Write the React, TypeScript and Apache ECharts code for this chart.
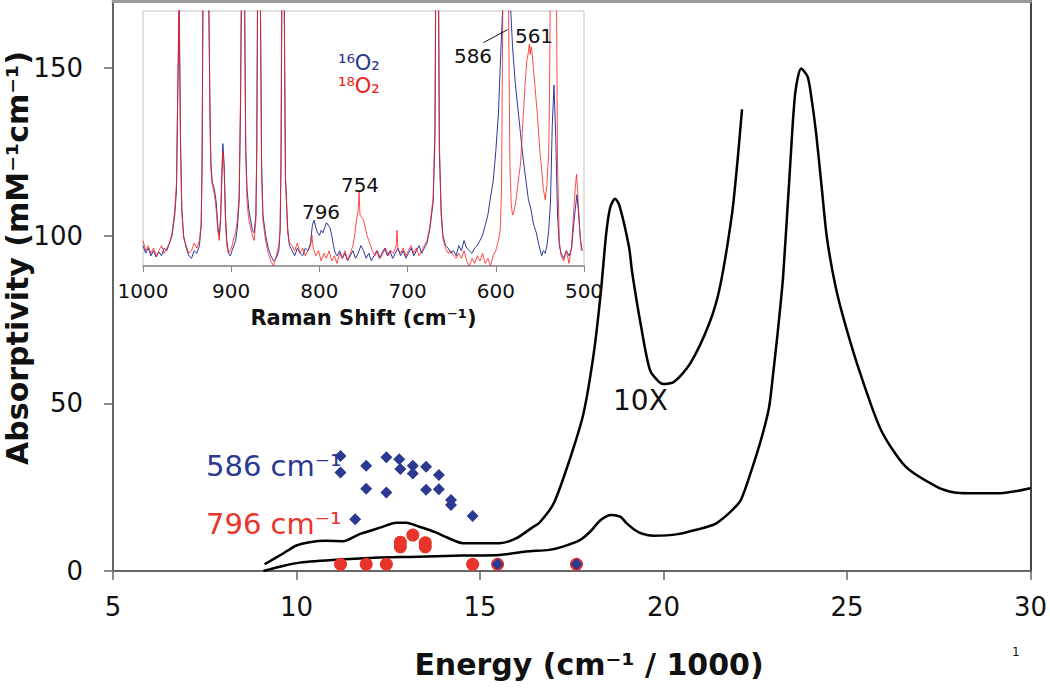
import React, { useEffect, useRef } from "react";
import * as echarts from "echarts";

const FONT = '"DejaVu Sans", Verdana, sans-serif';

const energyTicks = [5, 10, 15, 20, 25, 30];
const absorptivityTicks = [0, 50, 100, 150];
const ramanTicks = [500, 600, 700, 800, 900, 1000];

// Electronic absorption spectrum (Energy cm-1/1000, mM-1cm-1)
const absorbance: [number, number][] = [
  [9.1, 0], [9.63, 1.5], [10.09, 2.5], [11.18, 3.4], [12.26, 4.0], [13.08, 4.2],
  [14.52, 4.6], [15.53, 4.8], [16.25, 5.8], [16.89, 6.3], [17.24, 7.2], [17.72, 9.2],
  [18.0, 11.7], [18.29, 15.2], [18.58, 16.7], [18.82, 16.2], [19.0, 14.2], [19.2, 12.4],
  [19.4, 11.2], [19.73, 10.5], [20.39, 11.0], [21.2, 13.2], [21.44, 14.2], [21.83, 17.7],
  [22.11, 21.2], [22.4, 30.1], [22.68, 40], [22.88, 49], [22.99, 59], [23.11, 70.9],
  [23.26, 87.8], [23.45, 120.6], [23.59, 142.5], [23.75, 149.9], [23.93, 147.4],
  [24.04, 140.5], [24.16, 130.5], [24.31, 114.6], [24.45, 99.7], [24.69, 84.8],
  [24.97, 72.9], [25.36, 59], [25.93, 42], [26.6, 31.1], [27.45, 25.1], [27.93, 23.4],
  [28.31, 23.2], [29.17, 23.2], [30.0, 24.7],
];

// Same spectrum scaled 10X
const absorbance10x: [number, number][] = [
  [9.13, 2.0], [9.6, 5.0], [10.0, 7.6], [10.36, 8.6], [10.8, 9.0], [11.27, 8.9],
  [11.72, 11.0], [12.3, 13.0], [12.72, 14.4], [12.99, 14.4], [13.35, 13.2], [13.8, 11.5],
  [14.1, 10.0], [14.53, 8.3], [15.0, 8.3], [15.53, 8.3], [15.98, 9.7], [16.43, 13.0],
  [16.62, 14.4], [17.01, 20.2], [17.44, 33.1], [17.82, 47], [18.1, 64.9], [18.29, 82.8],
  [18.44, 100.7], [18.55, 108.5], [18.68, 111], [18.8, 109], [19.06, 96.7], [19.15, 88.8],
  [19.39, 72.9], [19.63, 60], [19.87, 56.5], [20.01, 55.8], [20.3, 56.5], [20.73, 61.9],
  [21.25, 73.9], [21.54, 84.8], [21.87, 106.7], [22.02, 122.6], [22.14, 137.7],
];

// Resonance Raman enhancement profiles
const profile586: [number, number][] = [
  [11.2, 34.3], [11.2, 29.4], [11.9, 31.4], [11.9, 24.5], [12.45, 33.9], [12.45, 23.4],
  [12.8, 33.3], [12.83, 30.4], [13.17, 31.4], [13.17, 29.1], [13.53, 31.1], [13.53, 24.2],
  [13.88, 28.6], [13.88, 24.4], [14.21, 21.2], [14.21, 19.7], [14.8, 16.4], [11.6, 15.4],
  [15.48, 2.0], [17.63, 2.0],
];
const profile796: [number, number][] = [
  [11.2, 2.0], [11.9, 2.0], [12.45, 2.0], [14.8, 2.0], [15.48, 2.0], [17.63, 2.0],
  [12.83, 8.6], [12.83, 7.2], [13.17, 10.7], [13.51, 8.4], [13.51, 7.2],
];

// Inset Raman spectra (shift cm-1, relative intensity)
const raman16O2: [number, number][] = [
  [1000, 8], [997, 5], [994, 7], [991, 4], [988, 6], [985, 3.5], [982, 5.5], [979, 4],
  [976, 7], [973, 6], [970, 9], [967, 12], [964, 20], [962, 30], [960.5, 70], [959, 104],
  [957.5, 50], [956, 22], [954, 12], [951, 7], [948, 4], [945, 3], [942, 6], [939, 5],
  [936, 8], [934, 16], [933, 40], [932, 105], [929, 250], [925.5, 105], [924, 60], [923, 40],
  [921.5, 33], [919, 30], [917, 25], [915, 15], [913.5, 12], [912, 18], [910.5, 35],
  [909.5, 48], [908, 40], [906.5, 20], [905, 10], [903, 5], [901, 4], [899, 6], [897, 8],
  [895, 10], [893, 15], [891, 25], [889.5, 60], [888, 120], [886.5, 160], [885, 115],
  [883.5, 45], [882, 30], [880, 22], [878, 18], [876, 14], [874, 13], [872, 20], [871, 45],
  [870, 110], [868.5, 170], [867, 110], [865.5, 40], [864, 20], [861, 12], [858, 7],
  [855, 4], [852, 2], [849, 3], [846, 6], [844.5, 14], [843.5, 40], [842.5, 110],
  [841, 170], [840, 110], [838.5, 35], [836, 15], [834, 8], [831, 6], [828, 4], [825, 7],
  [822, 5], [819, 4], [816, 7], [813, 6], [810, 9], [808, 16], [806, 18], [804, 15],
  [802, 13], [800, 12], [798, 14], [796, 13], [794, 15], [792, 17], [790, 16], [788, 15],
  [786, 12], [784, 8], [782, 5], [780, 4], [777, 6], [774, 3], [771, 5], [768, 2], [765, 4],
  [762, 6], [759, 3], [756, 5], [753, 8], [750, 6], [747, 3], [744, 5], [741, 2], [738, 4],
  [735, 6], [732, 3], [729, 5], [726, 7], [723, 4], [720, 6], [717, 3], [714, 5], [711, 7],
  [708, 4], [705, 6], [702, 3], [699, 5], [696, 7], [693, 4], [690, 6], [687, 8], [684, 5],
  [681, 7], [678, 9], [675, 14], [671, 25], [669, 50], [668, 110], [666.5, 180], [665, 110],
  [664, 45], [662, 22], [660, 12], [657, 8], [654, 7], [651, 5], [648, 6], [645, 4],
  [642, 8], [639, 6], [636, 10], [633, 7], [630, 6], [627, 5], [624, 7], [621, 8], [618, 10],
  [615, 12], [612, 16], [609, 20], [606, 27], [603, 33], [600, 45], [597, 60], [595, 78],
  [593, 95], [591, 110], [589, 130], [587, 140], [585, 120], [583, 100], [581, 86],
  [578, 72], [575, 62], [572, 52], [569, 42], [566, 34], [563, 26], [560, 22], [557, 16],
  [554, 13], [551, 8], [548, 4], [546, 6], [544, 5], [542, 8], [540, 14], [538, 25],
  [536, 55], [534, 71], [532, 50], [530, 20], [528, 8], [526, 5], [523, 3], [520, 6],
  [517, 4], [514, 7], [512, 15], [510, 22], [508, 28], [506, 20], [504, 10], [502, 6],
];

const raman18O2: [number, number][] = [
  [1000, 10], [997, 6], [994, 8], [991, 5], [988, 7], [985, 4], [982, 6], [979, 8],
  [976, 5], [973, 7], [970, 9], [967, 13], [964, 22], [962, 33], [960.5, 72], [959, 106],
  [957.5, 48], [956, 22], [954, 11], [951, 8], [948, 5], [945, 6], [942, 9], [939, 7],
  [936, 10], [934, 17], [933, 42], [932, 110], [929, 260], [925.5, 110], [924, 55],
  [923, 38], [921.5, 32], [919, 28], [917, 22], [915, 13], [913.5, 10], [912, 20],
  [910.5, 38], [909.5, 45], [908, 38], [906.5, 18], [905, 8], [903, 5], [901, 6], [899, 8],
  [897, 11], [895, 13], [893, 18], [891, 28], [889.5, 65], [888, 130], [886.5, 170],
  [885, 110], [883.5, 45], [882, 25], [880, 18], [878, 15], [876, 12], [874, 10], [872, 18],
  [871, 48], [870, 120], [868.5, 180], [867, 110], [865.5, 35], [864, 18], [861, 10],
  [858, 5], [855, 2], [852, 0], [849, 4], [846, 8], [844.5, 15], [843.5, 45], [842.5, 120],
  [841, 180], [840, 110], [838.5, 35], [836, 13], [834, 9], [831, 8], [828, 6], [825, 9],
  [822, 5], [819, 7], [816, 4], [813, 6], [810, 8], [808.5, 12], [807, 7], [804, 4],
  [801, 6], [798, 2], [795, 5], [792, 3], [789, 6], [786, 2], [783, 4], [780, 1], [777, 5],
  [774, 3], [771, 6], [768, 2], [765, 5], [762, 8], [760, 12], [758, 18], [756, 22],
  [755, 29], [754, 20], [752, 19], [750, 18], [748, 15], [746, 12], [744, 10], [742, 8],
  [740, 6], [737, 4], [734, 6], [731, 3], [728, 5], [725, 7], [722, 4], [719, 6], [716, 5],
  [713, 8], [712, 14], [711, 7], [708, 5], [705, 7], [702, 4], [699, 6], [696, 8], [693, 5],
  [690, 7], [687, 4], [684, 6], [681, 8], [678, 10], [675, 15], [671, 27], [669, 55],
  [668, 120], [666.5, 190], [665, 120], [664, 50], [662, 20], [660, 11], [657, 7], [654, 5],
  [651, 6], [648, 4], [645, 3], [642, 5], [639, 3], [636, 6], [633, 2], [630, 0], [627, 3],
  [624, 1], [621, 4], [618, 2], [615, 5], [612, 1], [609, 3], [606, 0], [603, 4], [600, 6],
  [597, 10], [595, 14], [593.5, 30], [592.5, 80], [591.5, 140], [589, 250], [587, 190],
  [585.5, 100], [584, 40], [582.5, 24], [581, 20], [579, 22], [577, 26], [575, 32],
  [572, 40], [570, 52], [567, 70], [565, 80], [563, 84], [562, 87], [561, 83], [560, 86],
  [559, 84], [556, 72], [553, 60], [550, 45], [548, 38], [546, 30], [544, 26], [542, 32],
  [540, 45], [539, 70], [538, 120], [536.5, 250], [534, 300], [532, 150], [530, 40],
  [528, 10], [526, 4], [523, 2], [520, 6], [517, 1], [514, 8], [512, 20], [510, 30],
  [508.5, 36], [507, 28], [505, 15], [503, 6],
];

const arrow586: [[number, number], [number, number]] = [[614, 87.6], [586.5, 92.7]];

const NAVY = "#2b3990";
const RED = "#e8342a";

export default function App() {
  const ref = useRef<HTMLDivElement>(null);

  useEffect(() => {
    if (!ref.current) return;
    const chart = echarts.init(ref.current, null, { renderer: "svg" });

    const txt = (text: string, x: number, y: number, size: number, fill: string, extra: any = {}) => ({
      type: "text",
      x,
      y,
      z: 100,
      ...extra,
      style: {
        text,
        fill,
        fontSize: size,
        fontFamily: FONT,
        align: extra.align || "left",
        verticalAlign: "middle",
        fontWeight: extra.fontWeight || "normal",
      },
    });

    const option: any = {
      animation: false,
      backgroundColor: "#ffffff",
      textStyle: { fontFamily: FONT },
      grid: [
        { left: 113, top: 1, width: 919, height: 570, show: false },
        {
          left: 143,
          top: 11,
          width: 441,
          height: 255,
          show: true,
          backgroundColor: "#ffffff",
          borderColor: "#c4c4c4",
          borderWidth: 1,
          z: 10,
        },
      ],
      xAxis: [
        {
          type: "value",
          gridIndex: 0,
          min: 5,
          max: 30,
          interval: 5,
          position: "bottom",
          axisLine: { show: true, onZero: false, lineStyle: { color: "#666", width: 2 } },
          axisTick: { show: true, length: 9, lineStyle: { color: "#666", width: 1.5 }, customValues: energyTicks },
          axisLabel: { fontSize: 26, color: "#111", margin: 23, fontFamily: FONT, customValues: energyTicks },
          splitLine: { show: false },
        },
        {
          type: "value",
          gridIndex: 0,
          min: 5,
          max: 30,
          position: "top",
          axisLine: { show: true, onZero: false, lineStyle: { color: "#9a9a9a", width: 3 } },
          axisTick: { show: false },
          axisLabel: { show: false },
          splitLine: { show: false },
        },
        {
          type: "value",
          gridIndex: 1,
          min: 500,
          max: 1000,
          interval: 100,
          inverse: true,
          position: "bottom",
          z: 20,
          axisLine: { show: true, onZero: false, lineStyle: { color: "#888", width: 1.5 } },
          axisTick: { show: true, length: 6, lineStyle: { color: "#888" } },
          axisLabel: {
            fontSize: 20,
            color: "#111",
            margin: 15,
            fontFamily: FONT,
            customValues: ramanTicks,
            formatter: (v: number) => String(v),
          },
          splitLine: { show: false },
          name: "Raman Shift (cm⁻¹)",
          nameLocation: "middle",
          nameGap: 41,
          nameTextStyle: { fontSize: 21, fontWeight: "bold", color: "#111", fontFamily: FONT },
        },
      ],
      yAxis: [
        {
          type: "value",
          gridIndex: 0,
          min: 0,
          max: 170,
          interval: 50,
          position: "left",
          axisLine: { show: true, onZero: false, lineStyle: { color: "#666", width: 2 } },
          axisTick: { show: true, length: 9, lineStyle: { color: "#666", width: 1.5 }, customValues: absorptivityTicks },
          axisLabel: { fontSize: 26, color: "#111", margin: 30, fontFamily: FONT, customValues: absorptivityTicks },
          splitLine: { show: false },
        },
        {
          type: "value",
          gridIndex: 0,
          min: 0,
          max: 170,
          position: "right",
          axisLine: { show: true, onZero: false, lineStyle: { color: "#444", width: 2 } },
          axisTick: { show: false },
          axisLabel: { show: false },
          splitLine: { show: false },
        },
        {
          type: "value",
          gridIndex: 1,
          min: 0,
          max: 100,
          show: false,
        },
      ],
      series: [
        {
          name: "Absorptivity",
          type: "line",
          xAxisIndex: 0,
          yAxisIndex: 0,
          data: absorbance,
          showSymbol: false,
          smooth: 0.25,
          lineStyle: { color: "#000", width: 2.5 },
          z: 3,
        },
        {
          name: "10X",
          type: "line",
          xAxisIndex: 0,
          yAxisIndex: 0,
          data: absorbance10x,
          showSymbol: false,
          smooth: 0.25,
          lineStyle: { color: "#000", width: 2.5 },
          z: 3,
        },
        {
          name: "796 cm-1",
          type: "scatter",
          xAxisIndex: 0,
          yAxisIndex: 0,
          data: profile796,
          symbol: "circle",
          symbolSize: 13,
          itemStyle: { color: RED, opacity: 1 },
          z: 4,
        },
        {
          name: "586 cm-1",
          type: "scatter",
          xAxisIndex: 0,
          yAxisIndex: 0,
          data: profile586,
          symbol: "diamond",
          symbolSize: 12,
          itemStyle: { color: NAVY, opacity: 1 },
          z: 5,
        },
        {
          name: "16O2",
          type: "line",
          xAxisIndex: 2,
          yAxisIndex: 2,
          data: raman16O2,
          showSymbol: false,
          clip: true,
          lineStyle: { color: "#2d3a9c", width: 1 },
          z: 21,
          markLine: {
            silent: true,
            symbol: ["none", "arrow"],
            symbolSize: [0, 7],
            label: { show: false },
            lineStyle: { color: "#111", width: 1, type: "solid" },
            data: [[{ coord: arrow586[0] }, { coord: arrow586[1] }]],
            z: 30,
          },
        },
        {
          name: "18O2",
          type: "line",
          xAxisIndex: 2,
          yAxisIndex: 2,
          data: raman18O2,
          showSymbol: false,
          clip: true,
          lineStyle: { color: "rgba(255,30,30,0.8)", width: 1 },
          z: 22,
        },
      ],
      graphic: [
        txt("Energy (cm⁻¹ / 1000)", 589, 664, 30, "#111", { align: "center", fontWeight: "bold" }),
        txt("Absorptivity (mM⁻¹cm⁻¹)", 17, 258, 30, "#111", {
          align: "center",
          fontWeight: "bold",
          rotation: Math.PI / 2,
        }),
        txt("586 cm⁻¹", 206, 466, 29, NAVY),
        txt("796 cm⁻¹", 206, 524, 29, RED),
        txt("10X", 613, 400, 28, "#111"),
        txt("¹⁶O₂", 338, 63, 21, NAVY),
        txt("¹⁸O₂", 338, 86, 21, "#ee2222"),
        txt("586", 473, 56, 20, "#111", { align: "center" }),
        txt("561", 534, 36, 20, "#111", { align: "center" }),
        txt("754", 360, 185, 20, "#111", { align: "center" }),
        txt("796", 321, 212, 20, "#111", { align: "center" }),
        txt("1", 1012, 652, 12, "#111"),
      ],
    };

    chart.setOption(option);
    return () => chart.dispose();
  }, []);

  return (
    <div
      ref={ref}
      style={{ position: "fixed", left: 0, top: 0, width: 1050, height: 690, background: "#fff" }}
    />
  );
}
